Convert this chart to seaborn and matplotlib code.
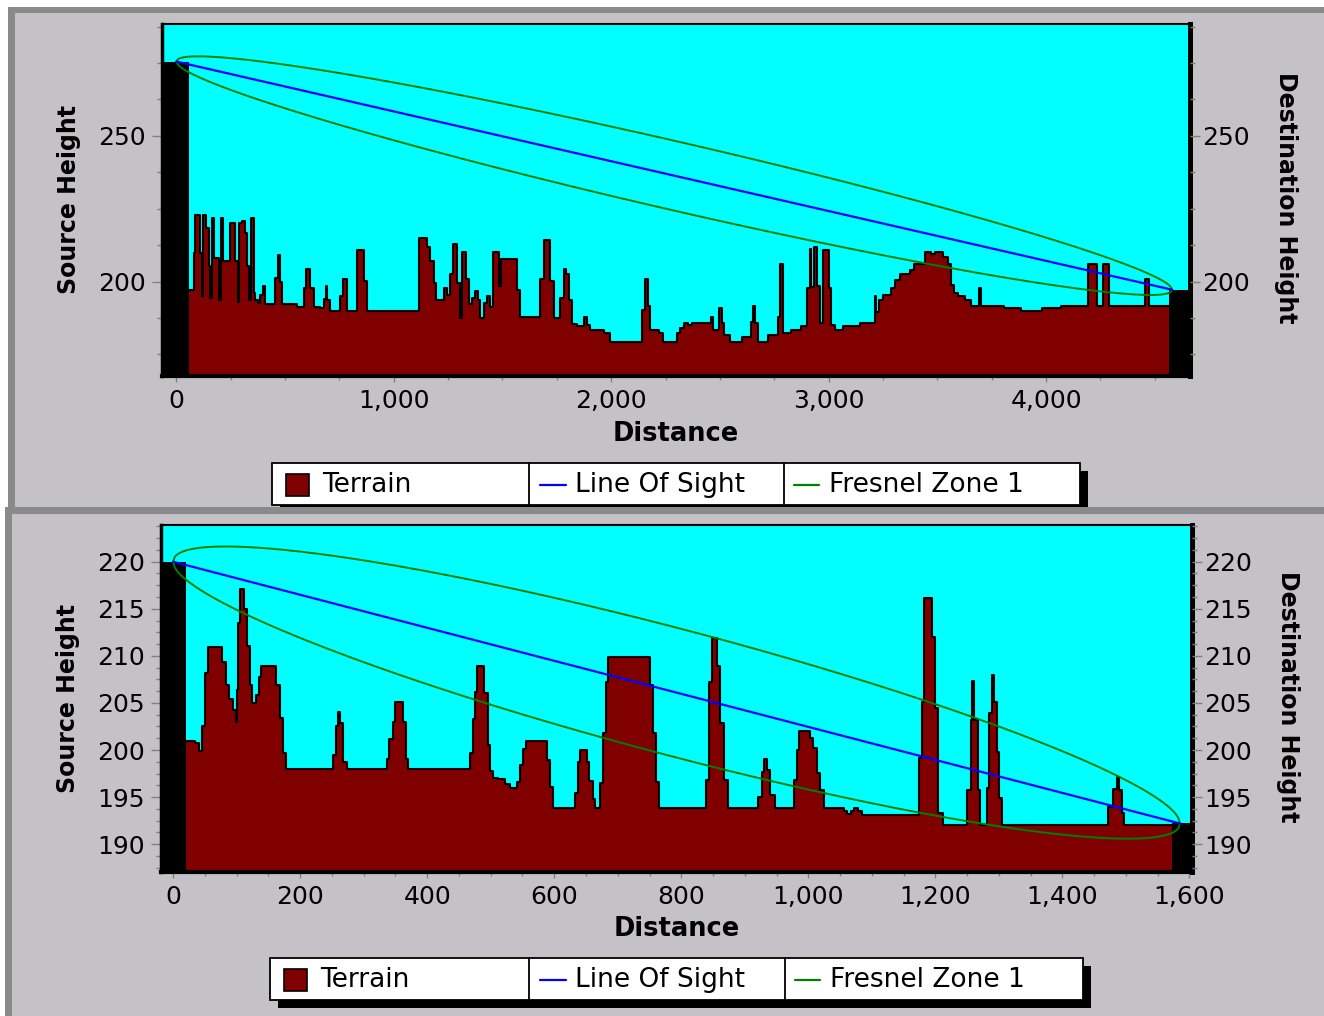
import numpy as np
import matplotlib
matplotlib.use("Agg")
import matplotlib.pyplot as plt
import seaborn as sns
from matplotlib.patches import Rectangle
from matplotlib.lines import Line2D
from matplotlib.ticker import MultipleLocator, FuncFormatter

# ---------------- upper chart: long link ----------------
# terrain profile as (distance, elevation) steps
long_profile = [
    (60, 197.2), (80, 209.7), (87, 222.7), (110, 209.7), (118, 195.0), (121, 222.7),
    (136, 218.5), (149, 205.2), (156, 194.3), (164, 221.7), (172, 208.0), (195, 193.7),
    (207, 221.7), (215, 206.9), (245, 220.0), (268, 206.9), (284, 193.1), (287, 220.0),
    (302, 220.8), (314, 216.6), (325, 205.2), (336, 193.7), (345, 221.7), (356, 196.0),
    (363, 193.7), (375, 192.6), (386, 195.4), (397, 198.5), (409, 192.4), (455, 201.1),
    (467, 209.2), (478, 200.0), (486, 192.3), (555, 191.4), (586, 197.7), (596, 204.2),
    (616, 197.7), (631, 191.4), (662, 190.9), (677, 194.0), (688, 198.5), (693, 193.7),
    (705, 189.9), (754, 195.1), (766, 200.9), (785, 189.9), (831, 210.9), (861, 200.2),
    (877, 189.9), (1114, 215.1), (1153, 211.7), (1165, 206.9), (1183, 199.4), (1195, 193.7),
    (1229, 197.7), (1244, 195.4), (1260, 202.5), (1272, 212.8), (1290, 199.4), (1303, 187.4),
    (1314, 210.1), (1332, 200.9), (1344, 192.2), (1359, 194.3), (1375, 196.9), (1386, 193.7),
    (1398, 187.4), (1413, 192.6), (1428, 194.9), (1444, 191.4), (1456, 210.1), (1482, 198.5),
    (1494, 207.7), (1566, 197.1), (1579, 187.7), (1674, 200.9), (1689, 214.3), (1720, 200.2),
    (1735, 187.4), (1766, 194.3), (1781, 204.2), (1793, 202.6), (1804, 193.7), (1819, 185.4),
    (1842, 184.9), (1873, 187.7), (1888, 185.1), (1904, 183.4), (1965, 182.3), (1995, 179.4),
    (2011, 179.2), (2143, 190.3), (2157, 200.9), (2167, 191.6), (2178, 183.4), (2222, 182.5),
    (2239, 179.4), (2301, 182.3), (2318, 184.0), (2336, 185.9), (2354, 185.1), (2371, 185.9),
    (2459, 187.8), (2468, 183.4), (2494, 190.9), (2509, 185.7), (2521, 181.7), (2547, 179.4),
    (2600, 181.1), (2644, 186.3), (2653, 191.6), (2662, 185.7), (2674, 179.4), (2723, 181.7),
    (2767, 187.8), (2776, 206.0), (2790, 182.5), (2829, 183.4), (2873, 184.8), (2899, 197.7),
    (2913, 211.1), (2920, 198.3), (2934, 211.7), (2948, 198.5), (2961, 185.7), (2973, 210.9),
    (3001, 197.7), (3013, 185.1), (3031, 183.4), (3066, 184.8), (3145, 185.9), (3212, 195.2),
    (3219, 189.7), (3233, 193.7), (3251, 195.4), (3286, 197.7), (3304, 200.6), (3330, 202.5),
    (3374, 204.0), (3392, 206.1), (3445, 210.1), (3471, 209.4), (3489, 210.1), (3524, 208.4),
    (3550, 206.1), (3564, 198.9), (3577, 196.0), (3594, 195.1), (3629, 193.7), (3656, 191.6),
    (3691, 197.7), (3700, 191.6), (3805, 190.9), (3884, 189.9), (3981, 190.9), (4069, 191.6),
    (4192, 206.0), (4236, 191.6), (4263, 206.0), (4289, 191.6), (4456, 200.9), (4474, 191.6),
]
long_profile_end = 4567
long_src_height = 275.5      # antenna height at source
long_dst_height = 197.2      # antenna height at destination
long_link_length = 4580
long_fresnel_radius = 12.0   # first Fresnel zone radius at mid-path
long_towers = [(-66, 60), (4567, 4680)]
long_xlim = (-66, 4662)
long_ylim = (167.6, 288.4)

# ---------------- lower chart: short link ----------------
short_profile = [
    (21.1, 200.96), (34.2, 200.72), (41.0, 199.94), (45.7, 202.59), (49.9, 208.15),
    (55.2, 210.91), (77.8, 209.39), (83.0, 206.91), (88.3, 205.39), (94.6, 204.25),
    (98.8, 203.02), (100.6, 206.38), (102.4, 213.53), (106.1, 217.07), (111.4, 214.94),
    (115.6, 211.05), (120.8, 206.91), (124.5, 205.03), (131.3, 205.85), (135.0, 207.79),
    (139.2, 208.93), (162.8, 206.91), (168.1, 203.37), (172.3, 199.72), (177.5, 197.96),
    (251.0, 199.48), (256.3, 202.59), (259.9, 204.08), (262.6, 202.84), (267.8, 198.77),
    (273.1, 197.96), (336.1, 199.02), (340.3, 201.14), (345.5, 203.02), (349.2, 205.07),
    (361.3, 203.02), (366.5, 199.02), (370.2, 197.96), (467.3, 199.72), (471.5, 203.26),
    (475.2, 206.20), (478.9, 208.93), (489.9, 206.09), (495.1, 200.54), (498.8, 197.81),
    (504.1, 197.00), (511.9, 196.89), (522.5, 196.40), (530.3, 195.94), (540.8, 196.65),
    (546.1, 198.42), (551.3, 200.08), (555.5, 201.00), (588.1, 198.95), (593.3, 196.12),
    (598.6, 193.89), (632.7, 195.41), (636.9, 198.77), (640.6, 200.01), (651.1, 198.77),
    (655.3, 196.75), (660.5, 194.77), (664.2, 193.89), (672.1, 196.47), (676.3, 201.78),
    (681.5, 207.26), (685.2, 209.92), (750.9, 206.91), (754.8, 201.78), (760.4, 196.65),
    (764.4, 193.89), (839.2, 196.82), (843.7, 207.26), (847.6, 211.86), (856.0, 208.93),
    (861.7, 202.84), (867.3, 196.82), (872.9, 193.89), (920.7, 195.05), (926.4, 197.71),
    (930.9, 199.02), (934.8, 197.88), (940.4, 195.23), (947.7, 193.89), (977.0, 196.82),
    (981.5, 200.01), (985.4, 202.06), (1002.3, 201.25), (1007.9, 200.18), (1013.5, 197.53),
    (1018.0, 195.76), (1024.8, 193.89), (1055.7, 193.57), (1061.4, 193.21), (1067.0, 193.57),
    (1072.6, 193.89), (1078.2, 193.57), (1083.9, 193.11), (1173.9, 199.12), (1179.5, 205.14),
    (1182.3, 216.11), (1195.2, 212.04), (1199.2, 204.43), (1204.8, 193.28), (1212.1, 192.05),
    (1249.8, 195.76), (1255.4, 203.19), (1258.2, 207.30), (1261.0, 203.19), (1266.7, 195.76),
    (1269.5, 192.05), (1280.7, 195.94), (1285.2, 203.90), (1289.2, 207.97), (1292.0, 205.14),
    (1296.5, 199.83), (1300.4, 194.88), (1304.4, 192.05), (1472.0, 194.00), (1480.4, 195.83),
    (1486.0, 197.18), (1488.9, 195.76), (1494.5, 193.28), (1497.3, 192.05),
]
short_profile_end = 1572
short_src_height = 220.0
short_dst_height = 192.2
short_link_length = 1585
short_fresnel_radius = 6.9
short_towers = [(-22, 21), (1572, 1610)]
short_xlim = (-19, 1604)
short_ylim = (187.1, 223.9)

# ---------------- styling ----------------
W, H = 1324, 1016
PANEL_GRAY = "#c4c2c6"
BORDER_GRAY = "#8a898c"
SKY = "#00ffff"
TERRAIN = "#800000"
LOS_BLUE = "#0000ff"
FRESNEL_GREEN = "#008000"
TICK_GRAY = "#808080"

sns.set_style("ticks")
plt.rcParams["font.family"] = ["DejaVu Sans"]
plt.rcParams["text.color"] = "black"
plt.rcParams["axes.labelcolor"] = "black"
plt.rcParams["xtick.labelcolor"] = "black"
plt.rcParams["ytick.labelcolor"] = "black"

fig = plt.figure(figsize=(W / 100, H / 100), dpi=100, facecolor="white")


def px_rect(x0, y0, x1, y1, **kw):
    return Rectangle((x0 / W, 1 - y1 / H), (x1 - x0) / W, (y1 - y0) / H,
                     transform=fig.transFigure, **kw)


def px_line(xs, ys, **kw):
    return Line2D([x / W for x in xs], [1 - y / H for y in ys],
                  transform=fig.transFigure, **kw)


# window-style panel backgrounds
fig.add_artist(px_rect(8, 7, W, 507, fc=BORDER_GRAY, ec="none", zorder=-30))
fig.add_artist(px_rect(15, 13, W, 507, fc=PANEL_GRAY, ec="none", zorder=-29))


def draw_legend(x0, x1, y0, div1, div2, z):
    h = 42
    fig.add_artist(px_rect(x0 + 8, y0 + 8, x1 + 8, y0 + h + 8, fc="black", ec="none", zorder=z))
    fig.add_artist(px_rect(x0, y0, x1, y0 + h, fc="white", ec="black", lw=1.3, zorder=z + 1))
    for d in (div1, div2):
        fig.add_artist(px_line([d, d], [y0, y0 + h], color="black", lw=1.3, zorder=z + 2))
    cy = y0 + h / 2 + 1
    fig.add_artist(px_rect(x0 + 14, cy - 11, x0 + 37, cy + 11, fc=TERRAIN, ec="black",
                           lw=1.2, zorder=z + 2))
    fig.text((x0 + 50) / W, 1 - cy / H, "Terrain", fontsize=19, va="center", ha="left", zorder=z + 3)
    fig.add_artist(px_line([div1 + 11, div1 + 37], [cy, cy], color=LOS_BLUE, lw=1.6, zorder=z + 2))
    fig.text((div1 + 46) / W, 1 - cy / H, "Line Of Sight", fontsize=19, va="center", ha="left",
             zorder=z + 3)
    fig.add_artist(px_line([div2 + 10, div2 + 35], [cy, cy], color=FRESNEL_GREEN, lw=1.6, zorder=z + 2))
    fig.text((div2 + 45) / W, 1 - cy / H, "Fresnel Zone 1", fontsize=19, va="center", ha="left",
             zorder=z + 3)


draw_legend(272, 1080, 463, 529, 784, z=-28)

fig.add_artist(px_rect(5, 507, W, H, fc=BORDER_GRAY, ec="none", zorder=-20))
fig.add_artist(px_rect(12, 514, W, H, fc=PANEL_GRAY, ec="none", zorder=-19))
draw_legend(270, 1083, 958, 529, 785, z=-18)

comma_fmt = FuncFormatter(lambda v, p: f"{v:,.0f}")


def draw_profile(rect, profile, profile_end, h_src, h_dst, length, radius, towers,
                 xlim, ylim, xmaj, ymaj):
    ax = fig.add_axes(rect)
    ax.set_facecolor(SKY)
    floor = ylim[0]

    dist = np.array([p[0] for p in profile] + [profile_end], dtype=float)
    elev = np.array([p[1] for p in profile] + [profile[-1][1]], dtype=float)

    # terrain
    ax.fill_between(dist, elev, floor, step="post", color=TERRAIN, lw=0, zorder=2)
    sns.lineplot(x=dist, y=elev, ax=ax, color="black", lw=1.5, drawstyle="steps-post",
                 estimator=None, sort=False, zorder=3)

    # antenna masts
    centers = [(a + b) / 2 for a, b in towers]
    widths = [b - a for a, b in towers]
    ax.bar(centers, [h_src - floor, h_dst - floor], width=widths, bottom=floor,
           color="black", lw=0, zorder=4)

    # line of sight and first Fresnel zone
    d = np.linspace(0, length, 600)
    los = h_src + (h_dst - h_src) * d / length
    r = 2 * radius * np.sqrt((d / length) * (1 - d / length))
    sns.lineplot(x=[0, length], y=[h_src, h_dst], ax=ax, color=LOS_BLUE, lw=1.6,
                 estimator=None, zorder=6)
    sns.lineplot(x=d, y=los + r, ax=ax, color=FRESNEL_GREEN, lw=1.4, estimator=None, zorder=5)
    sns.lineplot(x=d, y=los - r, ax=ax, color=FRESNEL_GREEN, lw=1.4, estimator=None, zorder=5)

    ax.set_xlim(xlim)
    ax.set_ylim(ylim)
    ax.xaxis.set_major_locator(MultipleLocator(xmaj))
    ax.xaxis.set_minor_locator(MultipleLocator(xmaj / 4))
    ax.xaxis.set_major_formatter(comma_fmt)
    ax.yaxis.set_major_locator(MultipleLocator(ymaj))
    ax.yaxis.set_minor_locator(MultipleLocator(ymaj / 4))
    ax.yaxis.set_major_formatter(comma_fmt)

    ax.tick_params(axis="x", which="major", length=4.5, width=1, color=TICK_GRAY,
                   labelsize=18, pad=5, labelcolor="black")
    ax.tick_params(axis="x", which="minor", length=3, width=1, color=TICK_GRAY)
    ax.tick_params(axis="y", which="major", length=7, width=1, color=TICK_GRAY,
                   labelsize=18, pad=4.5, right=False, labelcolor="black")
    ax.tick_params(axis="y", which="minor", length=3.5, width=1, color=TICK_GRAY, right=False)

    for side, lw in (("left", 2.5), ("bottom", 3.0), ("right", 3.6), ("top", 1.5)):
        ax.spines[side].set_visible(True)
        ax.spines[side].set_color("black")
        ax.spines[side].set_linewidth(lw)

    ax.set_xlabel("Distance", fontsize=18.5, fontweight="bold", color="black")
    ax.xaxis.set_label_coords(0.5, -0.165)
    ax.xaxis.label.set_verticalalignment("center")
    ax.set_ylabel("Source Height", fontsize=17, fontweight="bold", color="black")
    ax.yaxis.set_label_coords(-0.090, 0.5)
    ax.yaxis.label.set_verticalalignment("center")

    ax2 = ax.twinx()
    ax2.set_ylim(ylim)
    ax2.yaxis.set_major_locator(MultipleLocator(ymaj))
    ax2.yaxis.set_minor_locator(MultipleLocator(ymaj / 4))
    ax2.yaxis.set_major_formatter(comma_fmt)
    ax2.tick_params(axis="y", which="major", length=7, width=1, color=TICK_GRAY,
                    labelsize=18, pad=2, labelcolor="black")
    ax2.tick_params(axis="y", which="minor", length=3.5, width=1, color=TICK_GRAY)
    for s in ax2.spines.values():
        s.set_visible(False)
    ax2.set_ylabel("Destination Height", fontsize=17, fontweight="bold", rotation=270,
                   color="black")
    ax2.yaxis.set_label_coords(1.093, 0.505)
    ax2.yaxis.label.set_verticalalignment("center")
    return ax


draw_profile([162 / W, 1 - 376 / H, (1190 - 162) / W, (376 - 24) / H],
             long_profile, long_profile_end, long_src_height, long_dst_height,
             long_link_length, long_fresnel_radius, long_towers,
             long_xlim, long_ylim, 1000, 50)

draw_profile([161 / W, 1 - 871.5 / H, (1192 - 161) / W, (871.5 - 525) / H],
             short_profile, short_profile_end, short_src_height, short_dst_height,
             short_link_length, short_fresnel_radius, short_towers,
             short_xlim, short_ylim, 200, 5)

fig.savefig("out.png", dpi=100, facecolor=fig.get_facecolor())
